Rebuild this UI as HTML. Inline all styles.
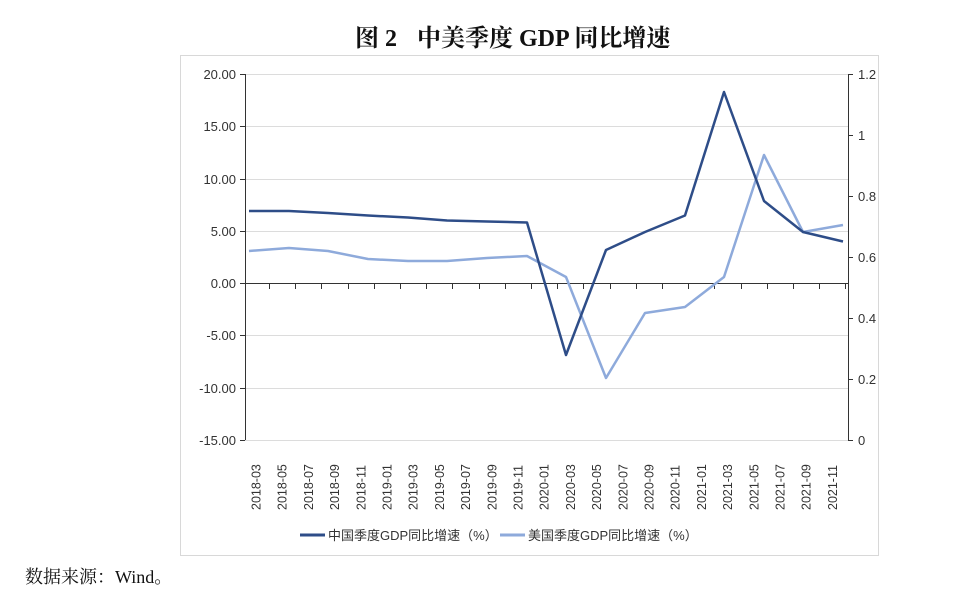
<!DOCTYPE html><html><head><meta charset="utf-8"><style>
body{margin:0;background:#fff;width:960px;height:590px;overflow:hidden;font-family:"Liberation Sans","Noto Sans CJK SC",sans-serif}
</style></head><body>
<svg width="960" height="590" xmlns="http://www.w3.org/2000/svg" font-family="Liberation Sans, Noto Sans CJK SC, sans-serif">
<text x="355" y="46" font-family="Liberation Serif, Noto Serif CJK SC, serif" font-weight="bold" font-size="24" fill="#111">图 2</text>
<text x="417" y="46" font-family="Liberation Serif, Noto Serif CJK SC, serif" font-weight="bold" font-size="24" fill="#111">中美季度 GDP 同比增速</text>
<rect x="180.5" y="55.5" width="698" height="500" fill="none" stroke="#d8d8d8"/>
<g stroke="#dcdcdc" stroke-width="1">
<line x1="245" x2="848" y1="74.5" y2="74.5"/><line x1="245" x2="848" y1="126.5" y2="126.5"/><line x1="245" x2="848" y1="179.5" y2="179.5"/><line x1="245" x2="848" y1="231.5" y2="231.5"/><line x1="245" x2="848" y1="335.5" y2="335.5"/><line x1="245" x2="848" y1="388.5" y2="388.5"/><line x1="245" x2="848" y1="440.5" y2="440.5"/>
</g>
<g stroke="#333" stroke-width="1">
<line x1="245.5" x2="245.5" y1="74" y2="440"/><line x1="240" x2="245" y1="74.5" y2="74.5"/><line x1="240" x2="245" y1="126.5" y2="126.5"/><line x1="240" x2="245" y1="179.5" y2="179.5"/><line x1="240" x2="245" y1="231.5" y2="231.5"/><line x1="240" x2="245" y1="283.5" y2="283.5"/><line x1="240" x2="245" y1="335.5" y2="335.5"/><line x1="240" x2="245" y1="388.5" y2="388.5"/><line x1="240" x2="245" y1="440.5" y2="440.5"/>
<line x1="245" x2="848" y1="283.5" y2="283.5"/>
<line x1="848.5" x2="848.5" y1="74" y2="440"/>
<g><line x1="848" x2="853" y1="74.5" y2="74.5"/><line x1="848" x2="853" y1="135.5" y2="135.5"/><line x1="848" x2="853" y1="196.5" y2="196.5"/><line x1="848" x2="853" y1="257.5" y2="257.5"/><line x1="848" x2="853" y1="318.5" y2="318.5"/><line x1="848" x2="853" y1="379.5" y2="379.5"/><line x1="848" x2="853" y1="440.5" y2="440.5"/></g>
</g>
<g id="xt" stroke="#333"></g>
<g font-size="13" fill="#333" text-anchor="end">
<text x="236" y="79">20.00</text><text x="236" y="131">15.00</text><text x="236" y="184">10.00</text><text x="236" y="236">5.00</text><text x="236" y="288">0.00</text><text x="236" y="340">-5.00</text><text x="236" y="393">-10.00</text><text x="236" y="445">-15.00</text>
</g>
<g font-size="13" fill="#333">
<text x="858" y="79">1.2</text><text x="858" y="140">1</text><text x="858" y="201">0.8</text><text x="858" y="262">0.6</text><text x="858" y="323">0.4</text><text x="858" y="384">0.2</text><text x="858" y="445">0</text>
</g>
<g id="xl" font-size="12.5" fill="#333"></g>
<polyline fill="none" stroke="#8eaadb" stroke-width="2.5" stroke-linejoin="round" points="249,251 289,248 328,251 368,259 408,261 447,261 487,258 527,256 566,277 606,378 645,313 685,307 724,277 764,155 803,232 843,225"/>
<polyline fill="none" stroke="#2e4d88" stroke-width="2.5" stroke-linejoin="round" points="249,211 289,211 328,213 368,215.5 408,217.5 447,220.5 487,221.5 527,222.5 566,355 606,250 645,232 685,215.5 724,92 764,201 803,232 843,241.5"/>
<line x1="300" x2="325" y1="535" y2="535" stroke="#2e4d88" stroke-width="3"/>
<text x="328" y="540" font-size="13" fill="#333">中国季度GDP同比增速（%）</text>
<line x1="500" x2="525" y1="535" y2="535" stroke="#8eaadb" stroke-width="3"/>
<text x="528" y="540" font-size="13" fill="#333">美国季度GDP同比增速（%）</text>
<text x="25" y="583" font-size="18" fill="#111" font-family="Liberation Serif, Noto Serif CJK SC, serif">数据来源：Wind。</text>
</svg>
<script>
var ns="http://www.w3.org/2000/svg",xt=document.getElementById('xt'),xl=document.getElementById('xl');
var labs=[];for(var y=2018;y<=2021;y++)for(var m=1;m<=11;m+=2){if(y==2018&&m<3)continue;labs.push(y+'-'+(m<10?'0':'')+m);}
for(var i=0;i<labs.length;i++){var x=256+i*26.2;
var t=document.createElementNS(ns,'text');t.setAttribute('transform','translate('+(x+4.5)+',510) rotate(-90)');t.textContent=labs[i];xl.appendChild(t);}
for(var i=0;i<23;i++){var x=Math.round(269+i*26.2)+0.5;var l=document.createElementNS(ns,'line');l.setAttribute('x1',x);l.setAttribute('x2',x);l.setAttribute('y1',283);l.setAttribute('y2',289);xt.appendChild(l);}
</script>
</body></html>
